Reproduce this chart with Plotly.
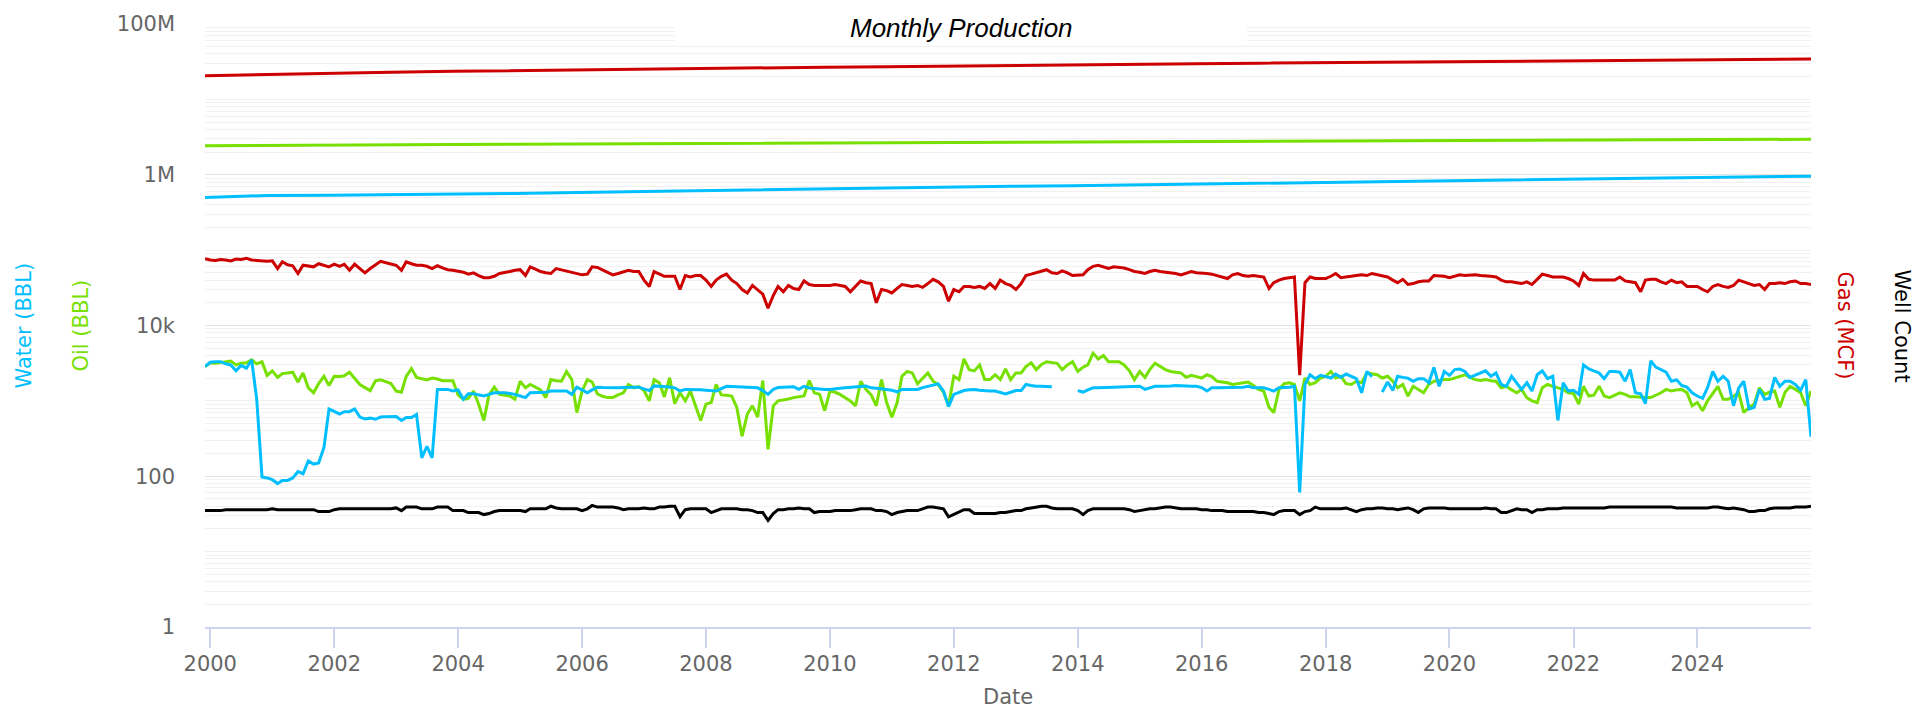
import pandas as pd
import plotly.graph_objects as go

W, H = 1915, 710
PL, PR, PT, PB = 205, 1811, 13, 627  # plot area edges in pixels


def px(x):
    return (x - PL) / (PR - PL)


def py(y):
    return (PB - y) / (PB - PT)


# monthly dates: 1999-12 .. 2025-11
months = pd.date_range("1999-12-01", periods=312, freq="MS")

gas = [
    77000,
    74000, 73000, 75000, 74000, 72000, 76000, 75000, 78000, 74000, 73000, 72000, 71000,
    72000, 57000, 70000, 64000, 62000, 49000, 63000, 62000, 60000, 66000, 63000, 60000,
    65000, 61000, 65000, 54000, 65000, 57000, 50000, 57000, 64000, 71000, 68000, 66000,
    63000, 54000, 70000, 66000, 63000, 63000, 61000, 57000, 62000, 58000, 55000, 54000,
    53000, 51000, 48000, 50000, 46000, 43000, 43000, 45000, 49000, 50000, 52000, 54000,
    55000, 46000, 60000, 56000, 52000, 50000, 49000, 57000, 55000, 53000, 51000, 49000,
    47000, 48000, 60000, 59000, 55000, 50000, 47000, 49000, 52000, 54000, 52000, 52000,
    40000, 33000, 52000, 48000, 45000, 45000, 45000, 30000, 46000, 44000, 46000, 46000,
    40000, 33000, 40000, 45000, 48000, 40000, 36000, 30000, 27000, 34000, 30000, 26000,
    17000, 25000, 33000, 28000, 34000, 31000, 30000, 39000, 35000, 34000, 34000, 34000,
    34000, 35000, 34000, 33000, 28000, 33000, 39000, 37000, 36000, 20000, 30000, 29000,
    27000, 31000, 35000, 34000, 33000, 34000, 32000, 36000, 41000, 38000, 33000, 21000,
    30000, 28000, 33000, 33000, 32000, 33000, 31000, 36000, 31000, 40000, 36000, 34000,
    30000, 36000, 46000, 48000, 50000, 52000, 55000, 50000, 49000, 53000, 50000, 46000,
    47000, 47000, 55000, 61000, 63000, 60000, 57000, 60000, 59000, 58000, 55000, 52000,
    51000, 49000, 52000, 54000, 52000, 51000, 51000, 49000, 47000, 50000, 52000, 50000,
    50000, 49000, 48000, 46000, 44000, 42000, 47000, 49000, 46000, 45000, 46000, 45000,
    44000, 31000, 37000, 40000, 42000, 43000, 44000, 2200, 37000, 44000, 42000, 42000,
    42000, 45000, 49000, 43000, 44000, 46000, 46000, 47000, 46000, 49000, 47000, 45000,
    44000, 40000, 37000, 41000, 35000, 36000, 38000, 39000, 39000, 46000, 45000, 45000,
    43000, 45000, 47000, 46000, 47000, 47000, 46000, 46000, 45000, 44000, 40000, 38000,
    38000, 37000, 36000, 38000, 35000, 41000, 48000, 46000, 44000, 44000, 44000, 42000,
    39000, 34000, 49000, 41000, 40000, 40000, 40000, 40000, 40000, 44000, 39000, 38000,
    37000, 28000, 40000, 41000, 41000, 38000, 36000, 40000, 37000, 38000, 33000, 33000,
    33000, 30000, 28000, 33000, 35000, 33000, 32000, 34000, 40000, 38000, 36000, 34000,
    35000, 30000, 36000, 36000, 37000, 36000, 38000, 39000, 36000, 36000, 35000,
]

oil = [
    2850,
    3200, 3150, 3200, 3300, 3380, 3000, 3150, 3200, 3500, 3100, 3300, 2180,
    2500, 2050, 2300, 2350, 2400, 1780, 2350, 1490, 1280, 1700, 2120, 1600,
    2120, 2100, 2150, 2400, 2010, 1650, 1500, 1370, 1850, 1900, 1800, 1700,
    1350, 1300, 2120, 2680, 2050, 1950, 1900, 2010, 1950, 1850, 1850, 1850,
    1200, 1050, 1080, 1350, 900, 550, 1200, 1520, 1220, 1200, 1160, 1050,
    1820, 1490, 1650, 1520, 1400, 1105, 1915, 1850, 1820, 2455, 1915, 700,
    1350, 1915, 1780, 1240, 1150, 1105, 1105, 1200, 1280, 1650, 1490, 1550,
    1370, 1000, 1915, 1740, 1130, 2030, 920, 1280, 1000, 1350, 860, 550,
    905, 950, 1650, 1200, 1190, 1160, 820, 340, 670, 860, 610, 1860,
    228, 860, 1000, 1020, 1060, 1105, 1130, 1160, 1860, 1280, 1220, 740,
    1350, 1300, 1220, 1105, 1000, 860, 1820, 1420, 1200, 860, 1915, 950,
    607, 950, 2120, 2455, 2350, 1690, 2010, 2350, 1820, 1650, 1300, 860,
    2120, 1915, 3600, 2600, 2500, 3000, 1915, 1915, 2220, 1915, 2650, 1915,
    2350, 2350, 2850, 3200, 2600, 3050, 3310, 3200, 3150, 2600, 3000, 3310,
    2455, 2800, 3000, 4300, 3600, 4000, 3310, 3310, 3310, 3000, 2500, 1915,
    2455, 2050, 2600, 3150, 2850, 2600, 2455, 2400, 2350, 2050, 2180, 2100,
    2010, 2220, 2100, 1820, 1780, 1740, 1650, 1690, 1720, 1780, 1600, 1420,
    1350, 820, 700, 1420, 1690, 1740, 1650, 1000, 2010, 1650, 1740, 2000,
    2120, 2455, 2010, 2120, 1690, 1650, 1820, 1740, 2350, 2300, 2220, 2010,
    2120, 1820, 1490, 1650, 1160, 1560, 1420, 1280, 1650, 1820, 1850, 1915,
    1915, 2000, 2120, 2220, 2050, 1915, 1860, 1915, 1850, 1820, 1490, 1560,
    1400, 1280, 1420, 1100, 1000, 950, 1490, 1650, 1560, 1500, 1420, 1280,
    1250, 905, 1560, 1160, 1190, 1560, 1160, 1105, 1200, 1280, 1220, 1130,
    1130, 1105, 1105, 1105, 1190, 1280, 1420, 1350, 1400, 1420, 1280, 860,
    950, 740, 1000, 1280, 1560, 1050, 1050, 1150, 1280, 700, 820, 905,
    1490, 1220, 1300, 1350, 820, 1300, 1560, 1420, 1280, 860, 1350,
]

water = [
    2850,
    3250, 3300, 3310, 3100, 3000, 2500, 2950, 2715, 3500, 1050, 98, 95,
    90, 80, 88, 88, 95, 115, 108, 160, 145, 150, 240, 780,
    720, 670, 720, 720, 780, 610, 575, 590, 570, 610, 615, 615,
    620, 550, 600, 600, 660, 175, 250, 175, 1420, 1420, 1420, 1350,
    1400, 1050, 1240, 1240, 1200, 1160, 1220, 1280, 1280, 1280, 1250, 1220,
    1160, 1105, 1280, 1280, 1280, 1300, 1350, 1350, 1350, 1350, 1220, 1520,
    1400, 1280, 1400, 1520, 1500, 1490, 1490, 1490, 1500, 1520, 1520, 1520,
    1450, 1370, 1580, 1570, 1560, 1530, 1490, 1350, 1420, 1420, 1420, 1400,
    1380, 1350, 1350, 1450, 1560, 1550, 1540, 1530, 1520, 1510, 1490, 1370,
    1220, 1420, 1500, 1520, 1530, 1540, 1420, 1560, 1480, 1460, 1420, 1420,
    1420, 1460, 1470, 1490, 1500, 1520, 1550, 1570, 1490, 1470, 1460, 1420,
    1380, 1320, 1420, 1420, 1420, 1420, 1500, 1560, 1620, 1680, 1350, 840,
    1220, 1300, 1370, 1400, 1420, 1380, 1350, 1350, 1350, 1300, 1240, 1300,
    1370, 1370, 1650, 1600, 1560, 1560, 1550, 1540, None, None, None, None,
    1370, 1310, 1400, 1490, 1490, 1490, 1500, 1520, 1530, 1540, 1550, 1560,
    1560, 1420, 1500, 1560, 1560, 1560, 1570, 1600, 1580, 1560, 1560, 1560,
    1500, 1350, 1490, 1490, 1490, 1490, 1490, 1490, 1520, 1560, 1490, 1490,
    1490, 1420, 1350, 1490, 1500, 1520, 1560, 61, 1650, 2220, 1970, 2180,
    2100, 2010, 2270, 2050, 2270, 2100, 1970, 1280, 2455, 2100, None, 1310,
    1780, 1380, 2120, 2050, 2000, 1820, 1970, 1970, 1740, 2780, 1560, 2455,
    2180, 2600, 2650, 2455, 2050, 2200, 2350, 2500, 2120, 2350, 1650, 1560,
    2120, 1740, 1420, 1740, 1350, 2220, 2500, 1970, 2120, 550, 1740, 1350,
    1380, 1220, 3000, 2650, 2500, 2350, 1970, 2455, 2455, 2400, 1820, 2600,
    1280, 1240, 920, 3400, 2800, 2600, 2400, 1820, 1900, 1600, 1520, 1280,
    1160, 1080, 1500, 2455, 1820, 2120, 1820, 860, 1490, 1820, 780, 820,
    1420, 1050, 1080, 2050, 1560, 1820, 1820, 1650, 1380, 1915, 333,
]

wells = [
    35,
    35, 35, 35, 36, 36, 36, 36, 36, 36, 36, 36, 36,
    37, 36, 36, 36, 36, 36, 36, 36, 36, 34, 34, 34,
    36, 37, 37, 37, 37, 37, 37, 37, 37, 37, 37, 37,
    38, 35, 39, 39, 39, 37, 37, 37, 39, 39, 39, 35,
    35, 35, 33, 33, 33, 31, 32, 34, 35, 35, 35, 35,
    35, 34, 37, 37, 37, 37, 40, 38, 37, 37, 37, 37,
    35, 37, 41, 39, 39, 39, 39, 38, 36, 37, 37, 37,
    38, 37, 37, 39, 39, 40, 40, 29, 36, 37, 37, 37,
    37, 33, 35, 37, 37, 37, 37, 36, 36, 35, 33, 33,
    26, 32, 36, 36, 37, 37, 38, 37, 37, 33, 34, 34,
    34, 35, 35, 35, 35, 36, 37, 37, 37, 35, 35, 34,
    31, 33, 34, 35, 35, 35, 37, 39, 39, 38, 37, 29,
    31, 33, 36, 36, 32, 32, 32, 32, 32, 33, 33, 34,
    35, 35, 37, 38, 39, 40, 40, 38, 37, 37, 37, 37,
    35, 31, 35, 37, 37, 37, 37, 37, 37, 37, 36, 34,
    35, 36, 37, 37, 38, 39, 39, 38, 37, 37, 37, 37,
    36, 36, 35, 35, 35, 34, 34, 34, 34, 34, 34, 33,
    33, 32, 31, 34, 35, 35, 35, 31, 34, 35, 39, 37,
    37, 37, 37, 37, 38, 36, 34, 36, 37, 37, 38, 38,
    37, 37, 36, 37, 38, 36, 33, 37, 38, 38, 38, 38,
    37, 37, 37, 37, 37, 37, 37, 38, 37, 37, 33, 33,
    35, 37, 36, 36, 33, 36, 36, 37, 37, 37, 38, 38,
    38, 38, 38, 38, 38, 38, 38, 39, 39, 39, 39, 39,
    39, 39, 39, 39, 39, 39, 39, 39, 38, 38, 38, 38,
    38, 38, 38, 39, 39, 38, 37, 38, 37, 36, 34, 34,
    35, 35, 37, 38, 38, 38, 38, 39, 39, 39, 40,
]

# cumulative production (year-end readings)
cum_dates = ["1999-12-01"] + [f"{y}-12-01" for y in range(2000, 2025)] + ["2025-11-01"]
cum_gas = [20.6e6, 21.45e6, 22.18e6, 22.9e6, 23.6e6, 24.17e6, 24.8e6, 25.4e6, 25.92e6,
           26.34e6, 26.71e6, 27.08e6, 27.47e6, 27.86e6, 28.4e6, 29.08e6, 29.68e6,
           30.22e6, 30.67e6, 31.2e6, 31.68e6, 32.2e6, 32.67e6, 33.1e6, 33.5e6,
           33.85e6, 34.2e6]
cum_oil = [2.420e6, 2.458e6, 2.483e6, 2.506e6, 2.529e6, 2.542e6, 2.561e6, 2.577e6,
           2.592e6, 2.603e6, 2.615e6, 2.629e6, 2.648e6, 2.677e6, 2.712e6, 2.750e6,
           2.780e6, 2.802e6, 2.821e6, 2.845e6, 2.864e6, 2.887e6, 2.903e6, 2.918e6,
           2.932e6, 2.945e6, 2.958e6]
cum_water = [500e3, 530e3, 533e3, 541e3, 550e3, 565e3, 581e3, 599e3, 617e3, 634e3,
             651e3, 669e3, 686e3, 704e3, 716e3, 734e3, 752e3, 770e3, 789e3, 813e3,
             836e3, 860e3, 882e3, 905e3, 925e3, 942e3, 958e3]

y_tickvals = [1, 1e2, 1e4, 1e6, 1e8]
y_ticktext = ["1", "100", "10k", "1M", "100M"]
x_tickvals = [f"{y}-01-01" for y in range(2000, 2026, 2)]
x_ticktext = [str(y) for y in range(2000, 2026, 2)]

C_GAS, C_OIL, C_WATER, C_WELL = "#CC0000", "#77E000", "#00BFFF", "#000000"
LW = 3

minor_vals = []
for d in range(0, 8):
    for k in range(1, 10):
        v = k * 10 ** d
        if v not in y_tickvals:
            minor_vals.append(v)

fig = go.Figure()
fig.add_trace(go.Scatter(x=cum_dates, y=cum_gas, mode="lines", line=dict(color=C_GAS, width=LW)))
fig.add_trace(go.Scatter(x=cum_dates, y=cum_oil, mode="lines", line=dict(color=C_OIL, width=LW)))
fig.add_trace(go.Scatter(x=cum_dates, y=cum_water, mode="lines", line=dict(color=C_WATER, width=LW)))
fig.add_trace(go.Scatter(x=months, y=wells, mode="lines", line=dict(color=C_WELL, width=LW)))
fig.add_trace(go.Scatter(x=months, y=gas, mode="lines", line=dict(color=C_GAS, width=LW)))
fig.add_trace(go.Scatter(x=months, y=oil, mode="lines", line=dict(color=C_OIL, width=LW)))
fig.add_trace(go.Scatter(x=months, y=water, mode="lines", line=dict(color=C_WATER, width=LW)))

tick_font = dict(family="DejaVu Sans", size=21, color="#666666")

fig.update_layout(
    width=W, height=H,
    margin=dict(l=PL, r=W - PR, t=PT, b=H - PB, pad=0),
    paper_bgcolor="white", plot_bgcolor="white",
    showlegend=False,
    hovermode=False,
    xaxis=dict(
        type="date",
        range=["1999-12-01", "2025-11-01"],
        tickvals=x_tickvals, ticktext=x_ticktext,
        ticks="outside", ticklen=19, tickwidth=2, tickcolor="#ccd6eb",
        showline=True, linecolor="#ccd6eb", linewidth=2,
        showgrid=False, zeroline=False,
        tickfont=tick_font,
        ticklabelstandoff=-2,
    ),
    yaxis=dict(
        type="log",
        range=[0, 8],
        tickvals=y_tickvals, ticktext=y_ticktext,
        ticks="", showline=False, zeroline=False,
        showgrid=True, gridcolor="#e3e3e3", gridwidth=1,
        tickfont=tick_font,
        ticklabelstandoff=29,
        minor=dict(tickvals=minor_vals, showgrid=True, gridcolor="#f1f1f1", gridwidth=1, ticks=""),
    ),
)

# white box behind the title
fig.add_shape(type="rect", xref="paper", yref="paper",
              x0=px(675), x1=px(1247), y0=py(33), y1=py(0),
              fillcolor="white", line=dict(width=0), layer="above")

title_font = dict(family="Liberation Sans", size=26, color="#000000")
annos = [
    dict(text="<i>Monthly Production</i>", x=px(961), y=py(17), font=title_font, textangle=0),
    dict(text="Water (BBL)", x=px(23), y=py(320), font=dict(family="DejaVu Sans", size=21, color=C_WATER), textangle=-90),
    dict(text="Oil (BBL)", x=px(80), y=py(320), font=dict(family="DejaVu Sans", size=21, color=C_OIL), textangle=-90),
    dict(text="Gas (MCF)", x=px(1845), y=py(320), font=dict(family="DejaVu Sans", size=21, color=C_GAS), textangle=90),
    dict(text="Well Count", x=px(1902), y=py(320), font=dict(family="DejaVu Sans", size=21, color="#000000"), textangle=90),
    dict(text="Date", x=px(1008), y=py(698), font=dict(family="DejaVu Sans", size=21, color="#666666"), textangle=0),
]
for a in annos:
    fig.add_annotation(xref="paper", yref="paper", xanchor="center", yanchor="middle",
                       showarrow=False, **a)

fig.write_html(
    "out.html",
    config={"displayModeBar": False},
    post_script="document.body.style.margin='0';document.body.style.overflow='hidden';",
)
